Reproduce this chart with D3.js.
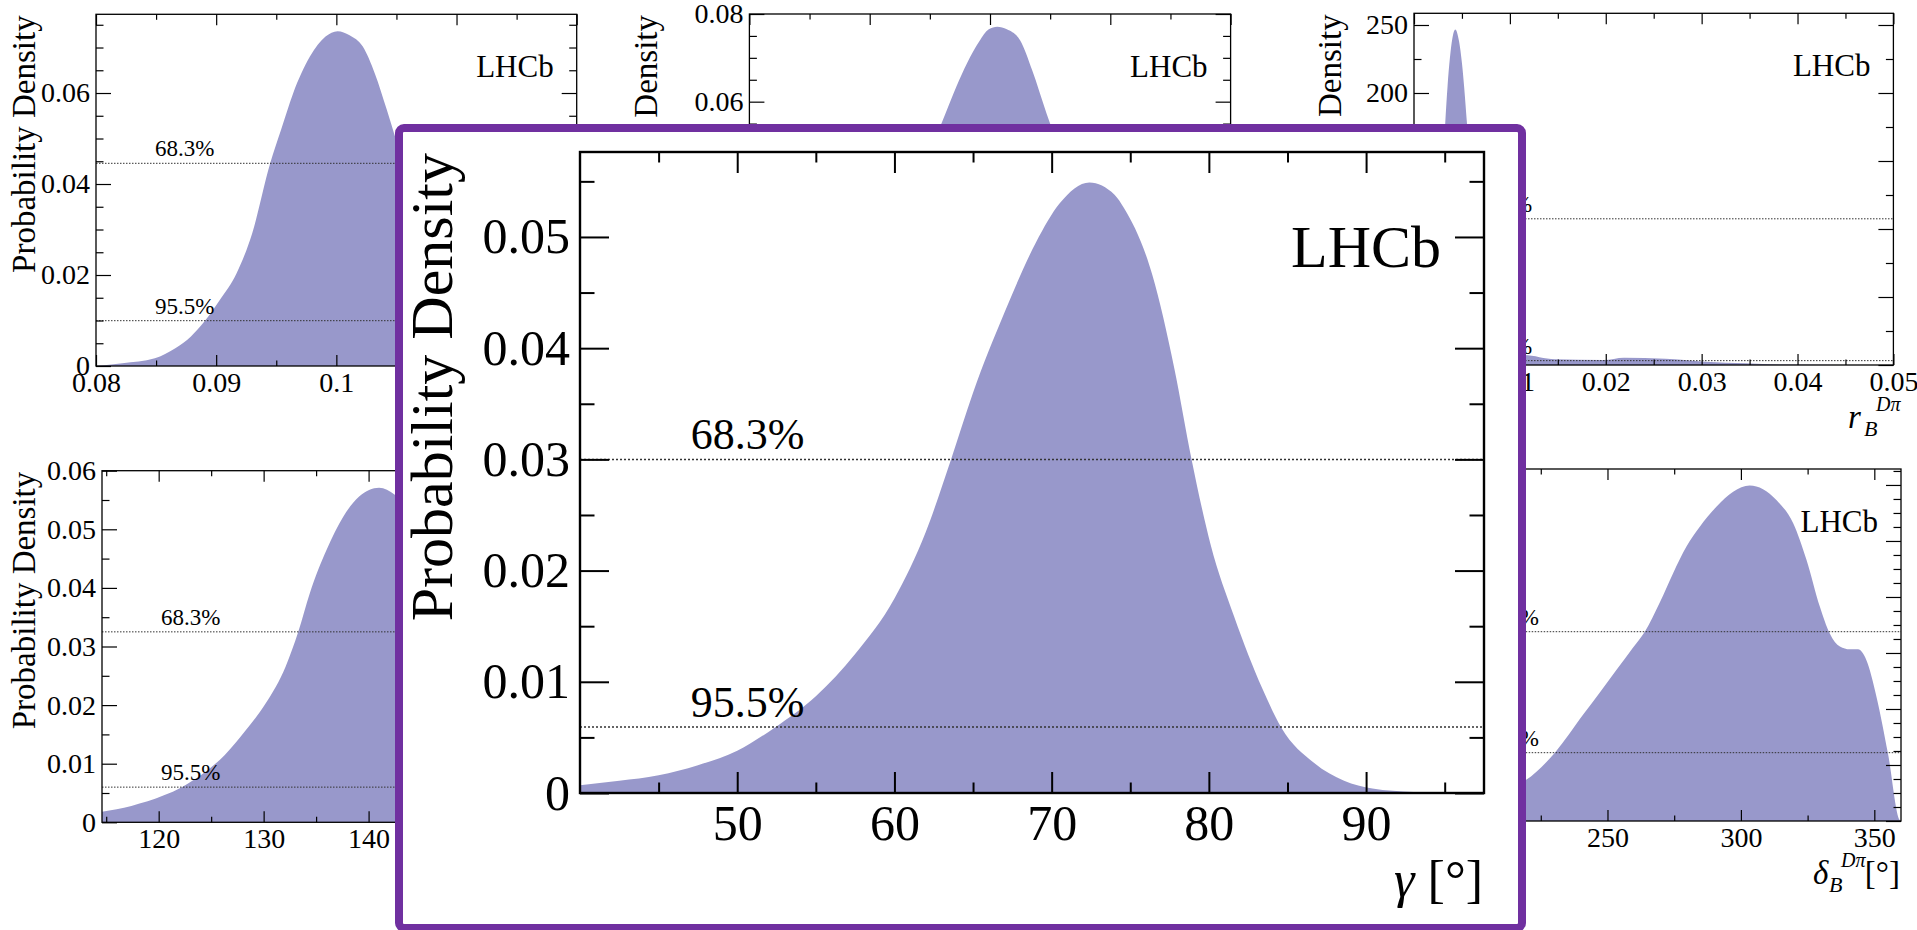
<!DOCTYPE html>
<html>
<head>
<meta charset="utf-8">
<script src="https://cdn.jsdelivr.net/npm/d3@7"></script>
<style>
  html, body { margin: 0; padding: 0; background: #ffffff; overflow: hidden; }
  svg { display: block; }
</style>
</head>
<body>
<svg id="chart" width="1917" height="930"></svg>
<script>
// ---------------- posterior densities ----------------
// gamma (main panel)
const gammaDeg = [40, 42.5, 45, 47.5, 50, 52.4, 55, 57.5, 60, 62, 63.6, 65, 67, 69, 70.5, 72.4, 74, 74.6, 76.4, 77.8, 78.9, 80.1, 81.6, 83.4, 84.6, 86.7, 88.6, 90.4, 93, 97.5];
const gammaPdf = [0.0007, 0.0011, 0.0016, 0.0025, 0.0038, 0.0059, 0.0087, 0.0125, 0.0175, 0.0235, 0.0300, 0.0360, 0.0432, 0.0495, 0.0530, 0.0549, 0.0538, 0.0526, 0.0466, 0.0382, 0.0300, 0.0224, 0.0159, 0.0094, 0.0059, 0.0027, 0.0011, 0.0004, 0.0001, 0];
const gammaLevels = [0.0300, 0.00594];

// r_B^{DK} (upper left)
const rbDKVal = [0.0800, 0.0822, 0.0849, 0.0866, 0.0879, 0.0890, 0.0903, 0.0917, 0.0930, 0.0945, 0.0954, 0.0964, 0.0978, 0.0991, 0.1001, 0.1011, 0.1022, 0.1032, 0.1042, 0.1050, 0.1070, 0.1100, 0.1130, 0.1160, 0.1200];
const rbDKPdf = [0.0000, 0.0006, 0.0017, 0.0039, 0.0065, 0.0097, 0.0145, 0.0204, 0.0292, 0.0446, 0.0519, 0.0599, 0.0680, 0.0724, 0.0736, 0.0727, 0.0702, 0.0643, 0.0563, 0.0495, 0.0360, 0.0200, 0.0080, 0.0025, 0.0005];
const rbDKLevels = [0.04455, 0.00996];

// upper middle parameter
const midVal = [0.060, 0.065, 0.070, 0.073, 0.0763, 0.0772, 0.0781, 0.0791, 0.0799, 0.0806, 0.0814, 0.0825, 0.0835, 0.0847, 0.088, 0.092, 0.096, 0.100];
const midPdf = [0.001, 0.005, 0.020, 0.036, 0.0573, 0.0634, 0.0688, 0.0737, 0.0765, 0.0771, 0.0765, 0.0740, 0.0672, 0.0573, 0.034, 0.012, 0.003, 0.001];
const midLevels = [0.046, 0.010];

// r_B^{Dpi} (upper right)
const rbDpiVal = [0.000, 0.001, 0.002, 0.0025, 0.003, 0.0035, 0.004, 0.0043, 0.0047, 0.005, 0.0055, 0.006, 0.0065, 0.007, 0.008, 0.009, 0.010, 0.0114, 0.0147, 0.0198, 0.0219, 0.0262, 0.0282, 0.0304, 0.0346, 0.0388, 0.045, 0.050];
const rbDpiPdf = [0, 4, 40, 85, 145, 205, 240, 246.7, 238, 222, 180, 128, 80, 45, 16, 8, 6.5, 7.4, 4.2, 3.7, 5.4, 4.6, 3.7, 2.4, 1.2, 0.3, 0.05, 0];
const rbDpiLevels = [107.5, 3.2];

// delta_B^{DK} (lower left)
const dbDKDeg = [114.6, 117.4, 120.5, 122.2, 124.3, 126.3, 128.2, 130.2, 132.1, 133.3, 134.4, 136.0, 137.6, 139.1, 141.0, 142.5, 145, 148, 151, 154, 157, 160.4];
const dbDKPdf = [0.0018, 0.0028, 0.0046, 0.0060, 0.0084, 0.0115, 0.0155, 0.0203, 0.0266, 0.0325, 0.0391, 0.0465, 0.0522, 0.0556, 0.0571, 0.0559, 0.050, 0.038, 0.024, 0.012, 0.005, 0.002];
const dbDKLevels = [0.0325, 0.0060];

// delta_B^{Dpi} (lower right)
const dbDpiDeg = [180, 190, 200, 210, 219.4, 230.3, 240.9, 247.2, 253.4, 259.6, 264.0, 269.6, 274.6, 279.6, 284.6, 290.9, 297.1, 303.3, 313.3, 319.6, 324.6, 329.6, 333.3, 337.1, 340.8, 343.9, 347.0, 350.8, 355.1, 359.5, 360];
const dbDpiPdf = [0.0004, 0.0006, 0.0008, 0.0011, 0.00146, 0.00244, 0.0038, 0.0046, 0.0054, 0.0062, 0.00676, 0.0078, 0.00885, 0.0098, 0.01051, 0.01123, 0.01176, 0.01198, 0.01146, 0.01063, 0.00932, 0.00765, 0.0067, 0.00623, 0.00613, 0.00613, 0.00575, 0.00444, 0.00242, 0.00004, 0];
const dbDpiLevels = [0.00676, 0.00244];

const levelLabels = ["68.3%", "95.5%"];

// ---------------- tick values ----------------
const gammaXTicks = [50, 60, 70, 80, 90];
const gammaXMinor = [45, 55, 65, 75, 85, 95];
const gammaYTicks = [0, 0.01, 0.02, 0.03, 0.04, 0.05];
const gammaYMinor = [0.005, 0.015, 0.025, 0.035, 0.045, 0.055];

const rbDKXTicks = [0.08, 0.09, 0.1, 0.11, 0.12];
const rbDKXMinor = [0.085, 0.095, 0.105, 0.115];
const rbDKYTicks = [0, 0.02, 0.04, 0.06];
const rbDKYMinor = [0.005, 0.01, 0.015, 0.025, 0.03, 0.035, 0.045, 0.05, 0.055, 0.065, 0.07, 0.075];

const midXTicks = [0.06, 0.07, 0.08, 0.09, 0.1];
const midXMinor = [0.065, 0.075, 0.085, 0.095];
const midYTicks = [0, 0.02, 0.04, 0.06, 0.08];
const midYMinor = [0.005, 0.01, 0.015, 0.025, 0.03, 0.035, 0.045, 0.05, 0.055, 0.065, 0.07, 0.075];

const rbDpiXTicks = [0, 0.01, 0.02, 0.03, 0.04, 0.05];
const rbDpiXMinor = [0.005, 0.015, 0.025, 0.035, 0.045];
const rbDpiYTicks = [0, 50, 100, 150, 200, 250];
const rbDpiYMinor = [25, 75, 125, 175, 225];

const dbDKXTicks = [120, 130, 140, 150, 160];
const dbDKXMinor = [115, 125, 135, 145, 155];
const dbDKYTicks = [0, 0.01, 0.02, 0.03, 0.04, 0.05, 0.06];
const dbDKYMinor = [0.005, 0.015, 0.025, 0.035, 0.045, 0.055];

const dbDpiXTicks = [200, 250, 300, 350];
const dbDpiXMinor = [225, 275, 325];
const dbDpiYTicks = [0, 0.002, 0.004, 0.006, 0.008, 0.010, 0.012];
const dbDpiYMinor = [0.0005, 0.001, 0.0015, 0.0025, 0.003, 0.0035, 0.0045, 0.005, 0.0055, 0.0065, 0.007, 0.0075, 0.0085, 0.009, 0.0095, 0.0105, 0.011, 0.0115, 0.0125];

// ---------------- drawing ----------------
const FONT = "'Liberation Serif', 'Times New Roman', Times, serif";
const FILL = "#9898cb";
const svg = d3.select("#chart");
const fmt = d => String(d);

let clipCount = 0;

function drawPanel(parent, p) {
  const g = parent.append("g");
  const x = d3.scaleLinear().domain(p.xDomain).range([p.left, p.right]);
  const y = d3.scaleLinear().domain(p.yDomain).range([p.bottom, p.top]);

  const cid = "clip" + (clipCount++);
  g.append("clipPath").attr("id", cid).append("rect")
    .attr("x", p.left).attr("y", p.top)
    .attr("width", p.right - p.left).attr("height", p.bottom - p.top);

  // filled posterior
  const area = d3.area()
    .x(i => x(p.xs[i]))
    .y0(y(0))
    .y1(i => y(p.ys[i]))
    .curve(d3.curveMonotoneX);
  g.append("path")
    .datum(d3.range(p.xs.length))
    .attr("d", area)
    .attr("fill", FILL)
    .attr("clip-path", `url(#${cid})`);

  // credible-level lines and their labels
  p.levels.forEach((v, i) => {
    g.append("line")
      .attr("x1", p.left).attr("x2", p.right)
      .attr("y1", y(v)).attr("y2", y(v))
      .attr("stroke", "#333").attr("stroke-width", p.dotW)
      .attr("stroke-dasharray", p.dash);
    g.append("text")
      .attr("x", p.left + 0.1225 * (p.right - p.left))
      .attr("y", y(v) - p.pctGap)
      .attr("font-family", FONT).attr("font-size", p.pctSize)
      .text(levelLabels[i]);
  });

  // axes: ticks point inward on all four sides
  const axG = g.append("g");
  axG.append("g").attr("transform", `translate(0,${p.bottom})`)
    .call(d3.axisBottom(x).tickValues(p.xTicks).tickSize(-p.tx).tickPadding(p.xPad).tickFormat(fmt));
  axG.append("g").attr("transform", `translate(0,${p.bottom})`)
    .call(d3.axisBottom(x).tickValues(p.xMinor).tickSize(-p.tx / 2).tickFormat(""));
  axG.append("g").attr("transform", `translate(0,${p.top})`)
    .call(d3.axisTop(x).tickValues(p.xTicks).tickSize(-p.tx).tickFormat(""));
  axG.append("g").attr("transform", `translate(0,${p.top})`)
    .call(d3.axisTop(x).tickValues(p.xMinor).tickSize(-p.tx / 2).tickFormat(""));
  axG.append("g").attr("transform", `translate(${p.left},0)`)
    .call(d3.axisLeft(y).tickValues(p.yTicks).tickSize(-p.ty).tickPadding(p.yPad).tickFormat(fmt));
  axG.append("g").attr("transform", `translate(${p.left},0)`)
    .call(d3.axisLeft(y).tickValues(p.yMinor).tickSize(-p.ty / 2).tickFormat(""));
  axG.append("g").attr("transform", `translate(${p.right},0)`)
    .call(d3.axisRight(y).tickValues(p.yTicks).tickSize(-p.ty).tickFormat(""));
  axG.append("g").attr("transform", `translate(${p.right},0)`)
    .call(d3.axisRight(y).tickValues(p.yMinor).tickSize(-p.ty / 2).tickFormat(""));

  axG.selectAll(".domain").remove();
  axG.selectAll("g").attr("font-family", FONT).attr("font-size", p.tickSize);
  axG.selectAll("line").attr("stroke", "#000").attr("stroke-width", p.lineW);
  axG.selectAll("text").attr("fill", "#000");

  // frame
  g.append("rect")
    .attr("x", p.left).attr("y", p.top)
    .attr("width", p.right - p.left).attr("height", p.bottom - p.top)
    .attr("fill", "none").attr("stroke", "#000").attr("stroke-width", p.frameW);

  // y title
  g.append("text")
    .attr("transform", `translate(${p.yTitleX},${p.top + 1}) rotate(-90)`)
    .attr("text-anchor", "end")
    .attr("font-family", FONT).attr("font-size", p.titleSize)
    .text("Probability Density");

  // experiment label
  g.append("text")
    .attr("x", p.right - p.lhcbRight).attr("y", p.top + p.lhcbDrop)
    .attr("text-anchor", "end")
    .attr("font-family", FONT).attr("font-size", p.lhcbSize)
    .text("LHCb");

  return { g, x, y };
}

// x-axis title of the form  sym_B^{D pi} [unit]
function varTitle(g, p, sym, unit) {
  const base = p.bottom + 63;
  g.append("text").attr("font-family", FONT).attr("font-style", "italic").attr("font-size", 33)
    .attr("x", p.symX).attr("y", base).text(sym);
  g.append("text").attr("font-family", FONT).attr("font-style", "italic").attr("font-size", 22)
    .attr("x", p.symX + 16).attr("y", base + 8).text("B");
  g.append("text").attr("font-family", FONT).attr("font-style", "italic").attr("font-size", 20)
    .attr("x", p.symX + 28).attr("y", base - 17).text("D\u03c0");
  if (unit) {
    g.append("text").attr("font-family", FONT).attr("font-size", 33)
      .attr("x", p.right - 1).attr("y", base).attr("text-anchor", "end").text(unit);
  }
}

const small = {
  tx: 11, ty: 15, xPad: 6, yPad: 6, tickSize: 28, titleSize: 33, lhcbSize: 31,
  pctSize: 23, pctGap: 7, lhcbRight: 23, lhcbDrop: 63, lineW: 1.2, frameW: 1.3,
  dotW: 1, dash: "1.5,1.5"
};

// upper left: r_B^{DK}
drawPanel(svg, Object.assign({}, small, {
  left: 96, right: 576.7, top: 14.3, bottom: 366, yTitleX: 35,
  xDomain: [0.08, 0.12], yDomain: [0, 0.0773],
  xs: rbDKVal, ys: rbDKPdf, levels: rbDKLevels,
  xTicks: rbDKXTicks, xMinor: rbDKXMinor, yTicks: rbDKYTicks, yMinor: rbDKYMinor
}));

// upper middle
drawPanel(svg, Object.assign({}, small, {
  left: 749.4, right: 1230.6, top: 14, bottom: 364.7, yTitleX: 657,
  xDomain: [0.06, 0.10], yDomain: [0, 0.08],
  xs: midVal, ys: midPdf, levels: midLevels,
  xTicks: midXTicks, xMinor: midXMinor, yTicks: midYTicks, yMinor: midYMinor
}));

// upper right: r_B^{Dpi}
const trCfg = Object.assign({}, small, {
  left: 1414, right: 1893.4, top: 13.3, bottom: 365, yTitleX: 1341, symX: 1848,
  xDomain: [0, 0.05], yDomain: [0, 258.6],
  xs: rbDpiVal, ys: rbDpiPdf, levels: rbDpiLevels,
  xTicks: rbDpiXTicks, xMinor: rbDpiXMinor, yTicks: rbDpiYTicks, yMinor: rbDpiYMinor
});
const tr = drawPanel(svg, trCfg);
varTitle(tr.g, trCfg, "r", null);

// lower left: delta_B^{DK}
drawPanel(svg, Object.assign({}, small, {
  left: 102, right: 582.7, top: 470.7, bottom: 822.3, yTitleX: 35,
  xDomain: [114.6, 160.4], yDomain: [0, 0.06],
  xs: dbDKDeg, ys: dbDKPdf, levels: dbDKLevels,
  xTicks: dbDKXTicks, xMinor: dbDKXMinor, yTicks: dbDKYTicks, yMinor: dbDKYMinor
}));

// lower right: delta_B^{Dpi}
const brCfg = Object.assign({}, small, {
  left: 1420.7, right: 1901, top: 469, bottom: 821, yTitleX: 1345, symX: 1813,
  xDomain: [180, 360], yDomain: [0, 0.01257],
  xs: dbDpiDeg, ys: dbDpiPdf, levels: dbDpiLevels,
  xTicks: dbDpiXTicks, xMinor: dbDpiXMinor, yTicks: dbDpiYTicks, yMinor: dbDpiYMinor
});
const br = drawPanel(svg, brCfg);
varTitle(br.g, brCfg, "\u03b4", "[\u00b0]");

// highlighted gamma panel on top
svg.append("rect")
  .attr("x", 399).attr("y", 128).attr("width", 1123).attr("height", 800)
  .attr("rx", 5).attr("ry", 5)
  .attr("fill", "#ffffff").attr("stroke", "#7030a0").attr("stroke-width", 8);

const main = drawPanel(svg, {
  left: 580, right: 1484, top: 152, bottom: 793, yTitleX: 452,
  tx: 21, ty: 29, xPad: 11, yPad: 10, tickSize: 50, titleSize: 60, lhcbSize: 60,
  pctSize: 44, pctGap: 10, lhcbRight: 43, lhcbDrop: 115, lineW: 2, frameW: 2.4,
  dotW: 1.5, dash: "2,2",
  xDomain: [40, 97.5], yDomain: [0, 0.05764],
  xs: gammaDeg, ys: gammaPdf, levels: gammaLevels,
  xTicks: gammaXTicks, xMinor: gammaXMinor, yTicks: gammaYTicks, yMinor: gammaYMinor
});
{
  const t = main.g.append("text").attr("font-family", FONT).attr("font-size", 52)
    .attr("x", 1483).attr("y", 897).attr("text-anchor", "end");
  t.append("tspan").attr("font-style", "italic").text("\u03b3");
  t.append("tspan").text(" [\u00b0]");
}
</script>
</body>
</html>
